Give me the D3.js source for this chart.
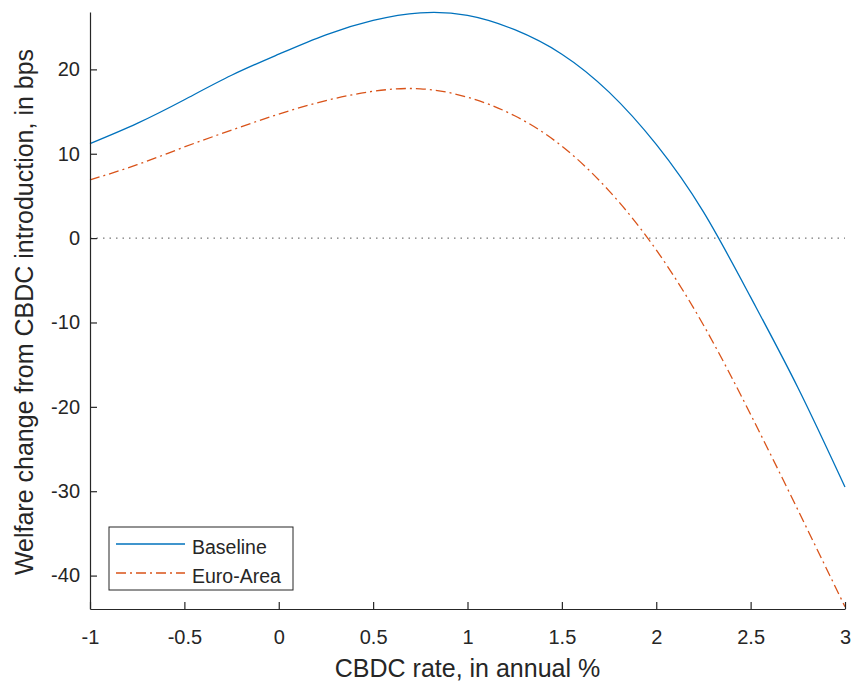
<!DOCTYPE html>
<html>
<head>
<meta charset="utf-8">
<script src="https://cdn.jsdelivr.net/npm/d3@7"></script>
<style>
  body { margin: 0; background: #fff; }
  svg text { font-family: "Liberation Sans", Arial, Helvetica, sans-serif; fill: #262626; }
</style>
</head>
<body>
<div id="chart"></div>
<script>
// CBDC rate grid (annual %)
var rates = [-1, -0.75, -0.5, -0.25, 0, 0.25, 0.5, 0.75, 1, 1.25, 1.5, 1.75, 2, 2.25, 2.5, 2.75, 3];

// welfare change, bps
var baseline = [11.2, 13.6, 16.4, 19.3, 21.8, 24.1, 25.8, 26.7, 26.4, 24.7, 21.8, 17.3, 11.1, 3.1, -7.0, -17.7, -29.5];
var euroArea = [6.9, 8.7, 10.8, 12.8, 14.7, 16.3, 17.4, 17.7, 16.7, 14.5, 10.9, 5.6, -1.4, -10.3, -20.9, -32.2, -43.7];

var xTicks = [-1, -0.5, 0, 0.5, 1, 1.5, 2, 2.5, 3];
var yTicks = [-40, -30, -20, -10, 0, 10, 20];

var seriesNames = ["Baseline", "Euro-Area"];
var seriesColors = ["#0072BD", "#D95319"];
var seriesDash = [null, "10,4,2,4"];

(function () {
  var width = 851, height = 681,
      margin = {left: 90, right: 6, top: 12, bottom: 72};

  var svg = d3.select("#chart").append("svg")
    .attr("width", width)
    .attr("height", height);

  var x = d3.scaleLinear().domain([-1, 3]).range([margin.left, width - margin.right]);
  var y = d3.scaleLinear().domain([-43.96, 26.8]).range([height - margin.bottom, margin.top]);

  // zero reference line
  svg.append("line")
    .attr("x1", x(-1)).attr("x2", x(3))
    .attr("y1", y(0)).attr("y2", y(0))
    .attr("stroke", "#555")
    .attr("stroke-width", 1)
    .attr("stroke-dasharray", "1.5,5");

  // series
  var line = d3.line()
    .x(function (d) { return x(d[0]); })
    .y(function (d) { return y(d[1]); })
    .curve(d3.curveNatural);

  [baseline, euroArea].forEach(function (vals, i) {
    svg.append("path")
      .datum(rates.map(function (r, j) { return [r, vals[j]]; }))
      .attr("fill", "none")
      .attr("stroke", seriesColors[i])
      .attr("stroke-width", 1.3)
      .attr("stroke-dasharray", seriesDash[i])
      .attr("d", line);
  });

  // axes (ticks pointing inward, MATLAB style)
  var xAxis = svg.append("g")
    .attr("transform", "translate(0," + y.range()[0] + ")")
    .call(d3.axisBottom(x).tickValues(xTicks).tickSizeInner(-7).tickSizeOuter(0)
      .tickFormat(function (d) { return String(d); }));

  var yAxis = svg.append("g")
    .attr("transform", "translate(" + x.range()[0] + ",0)")
    .call(d3.axisLeft(y).tickValues(yTicks).tickSizeInner(-7).tickSizeOuter(0).tickPadding(10)
      .tickFormat(function (d) { return String(d); }));

  [xAxis, yAxis].forEach(function (g) {
    g.select(".domain").attr("stroke", "#262626").attr("stroke-width", 1.2);
    g.selectAll(".tick line").attr("stroke", "#262626").attr("stroke-width", 1.2);
    g.selectAll(".tick text")
      .attr("font-size", 20)
      .attr("fill", "#262626")
      .style("font-family", "'Liberation Sans', Arial, sans-serif");
  });
  xAxis.selectAll(".tick text").attr("dy", null).attr("y", 35);

  // axis titles
  svg.append("text")
    .attr("x", (x.range()[0] + x.range()[1]) / 2)
    .attr("y", 677)
    .attr("text-anchor", "middle")
    .attr("font-size", 25)
    .text("CBDC rate, in annual %");

  svg.append("text")
    .attr("transform", "translate(33,312) rotate(-90)")
    .attr("text-anchor", "middle")
    .attr("font-size", 25)
    .text("Welfare change from CBDC introduction, in bps");

  // legend
  var legend = svg.append("g").attr("transform", "translate(109,527)");
  legend.append("rect")
    .attr("width", 184).attr("height", 63)
    .attr("fill", "#fff")
    .attr("stroke", "#262626")
    .attr("stroke-width", 1);

  seriesNames.forEach(function (name, i) {
    var ly = 17 + i * 29;
    legend.append("line")
      .attr("x1", 7).attr("x2", 76)
      .attr("y1", ly).attr("y2", ly)
      .attr("stroke", seriesColors[i])
      .attr("stroke-width", 1.3)
      .attr("stroke-dasharray", seriesDash[i]);
    legend.append("text")
      .attr("x", 83).attr("y", ly + 10)
      .attr("font-size", 19.5)
      .text(name);
  });
})();
</script>
</body>
</html>
